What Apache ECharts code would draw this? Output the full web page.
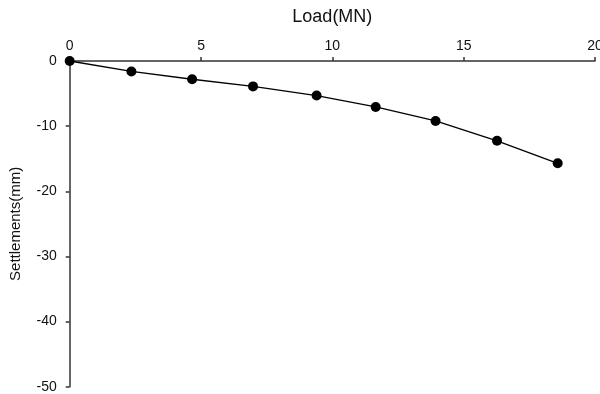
<!DOCTYPE html>
<html>
<head>
<meta charset="utf-8">
<script src="https://cdn.jsdelivr.net/npm/echarts@6/dist/echarts.min.js"></script>
<style>
  html, body { margin: 0; padding: 0; background: #fff; }
  #chart { width: 600px; height: 394px; }
</style>
</head>
<body>
<div id="chart"></div>
<script>
// Pile load test: applied load vs. head settlement
const loads = [0, 2.35, 4.66, 6.98, 9.40, 11.65, 13.93, 16.27, 18.58];
const settlements = [0, -1.6, -2.8, -3.9, -5.3, -7.05, -9.2, -12.25, -15.7];
const xTicks = [0, 5, 10, 15, 20];
const yTicks = [0, -10, -20, -30, -40, -50];

const chart = echarts.init(document.getElementById('chart'), null, { renderer: 'canvas' });
const font = 'Liberation Sans, Arial, sans-serif';

chart.setOption({
  backgroundColor: '#ffffff',
  animation: false,
  grid: {
    left: 69.7, right: 5, top: 61, bottom: 7.3,
    containLabel: false,
    outerBoundsMode: 'none'
  },
  xAxis: {
    type: 'value',
    position: 'top',
    min: xTicks[0],
    max: xTicks[xTicks.length - 1],
    interval: 5,
    name: 'Load(MN)',
    nameLocation: 'middle',
    nameGap: 35,
    nameTextStyle: { fontFamily: font, fontSize: 18, color: '#111' },
    axisLine: { show: true, onZero: false, lineStyle: { color: '#333', width: 1.5 } },
    axisTick: { show: true, inside: false, length: 4, lineStyle: { color: '#333', width: 1.5 } },
    axisLabel: { fontFamily: font, fontSize: 14, color: '#111', margin: 8 },
    splitLine: { show: false }
  },
  yAxis: {
    type: 'value',
    min: yTicks[yTicks.length - 1],
    max: yTicks[0],
    interval: 10,
    name: 'Settlements(mm)',
    nameLocation: 'middle',
    nameGap: 46,
    nameRotate: 90,
    nameTextStyle: { fontFamily: font, fontSize: 15, color: '#111' },
    axisLine: { show: true, onZero: false, lineStyle: { color: '#333', width: 1.5 } },
    axisTick: { show: true, inside: false, length: 4, lineStyle: { color: '#333', width: 1.5 } },
    axisLabel: { fontFamily: font, fontSize: 14, color: '#111', margin: 13 },
    splitLine: { show: false }
  },
  series: [{
    type: 'line',
    data: loads.map((x, i) => [x, settlements[i]]),
    symbol: 'circle',
    symbolSize: 10,
    lineStyle: { color: '#000', width: 1.3 },
    itemStyle: { color: '#000' },
    clip: false
  }]
});
</script>
</body>
</html>
